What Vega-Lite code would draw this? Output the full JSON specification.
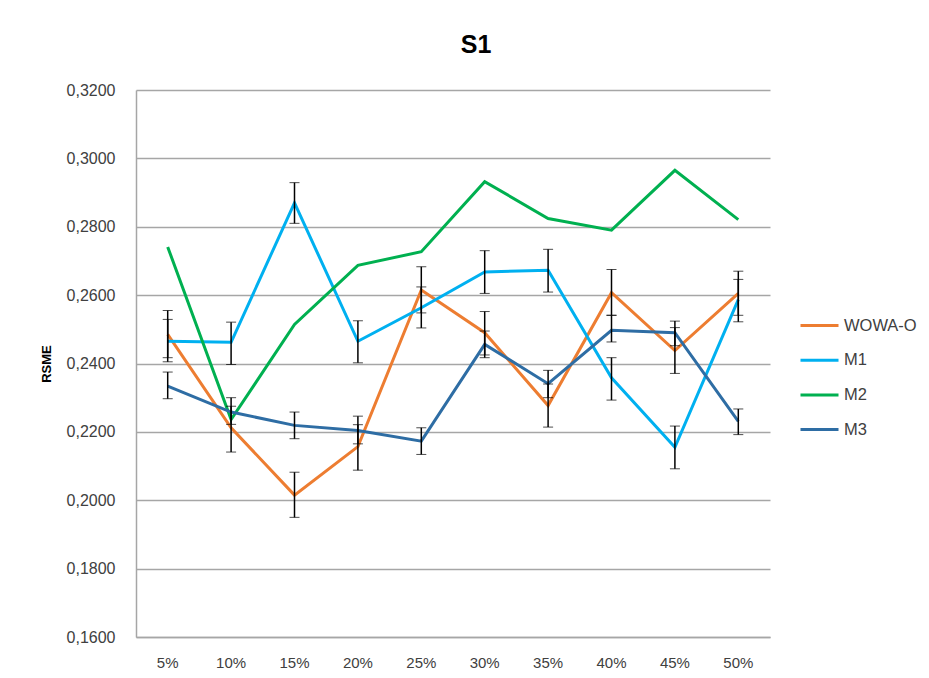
{
  "$schema": "https://vega.github.io/schema/vega-lite/v6.json",
  "width": 634,
  "height": 547,
  "autosize": {"type": "none"},
  "padding": {"left": 136, "top": 90, "right": 159, "bottom": 41},
  "background": "white",
  "title": {
    "text": "S1",
    "font": "Liberation Sans",
    "fontSize": 25,
    "fontWeight": "bold",
    "color": "#000000",
    "anchor": "middle",
    "dx": 23,
    "offset": 24
  },
  "data": {
    "values": [
      {"s": "WOWA-O", "x": "5%", "v": 0.2485, "lo": 0.2417, "hi": 0.2555},
      {"s": "WOWA-O", "x": "10%", "v": 0.2212, "lo": 0.2141, "hi": 0.2275},
      {"s": "WOWA-O", "x": "15%", "v": 0.2015, "lo": 0.1950, "hi": 0.2082},
      {"s": "WOWA-O", "x": "20%", "v": 0.2157, "lo": 0.2088, "hi": 0.2221},
      {"s": "WOWA-O", "x": "25%", "v": 0.2615, "lo": 0.2548, "hi": 0.2683},
      {"s": "WOWA-O", "x": "30%", "v": 0.2490, "lo": 0.2425, "hi": 0.2552},
      {"s": "WOWA-O", "x": "35%", "v": 0.2277, "lo": 0.2214, "hi": 0.2340},
      {"s": "WOWA-O", "x": "40%", "v": 0.2607, "lo": 0.2541, "hi": 0.2675},
      {"s": "WOWA-O", "x": "45%", "v": 0.2438, "lo": 0.2371, "hi": 0.2505},
      {"s": "WOWA-O", "x": "50%", "v": 0.2605, "lo": 0.2541, "hi": 0.2670},
      {"s": "M1", "x": "5%", "v": 0.2465, "lo": 0.2405, "hi": 0.2529},
      {"s": "M1", "x": "10%", "v": 0.2462, "lo": 0.2397, "hi": 0.2521},
      {"s": "M1", "x": "15%", "v": 0.2870, "lo": 0.2810, "hi": 0.2929},
      {"s": "M1", "x": "20%", "v": 0.2465, "lo": 0.2402, "hi": 0.2525},
      {"s": "M1", "x": "25%", "v": 0.2563, "lo": 0.2504, "hi": 0.2624},
      {"s": "M1", "x": "30%", "v": 0.2668, "lo": 0.2605, "hi": 0.2730},
      {"s": "M1", "x": "35%", "v": 0.2673, "lo": 0.2609, "hi": 0.2734},
      {"s": "M1", "x": "40%", "v": 0.2358, "lo": 0.2293, "hi": 0.2417},
      {"s": "M1", "x": "45%", "v": 0.2155, "lo": 0.2092, "hi": 0.2217},
      {"s": "M1", "x": "50%", "v": 0.2587, "lo": 0.2522, "hi": 0.2646},
      {"s": "M2", "x": "5%", "v": 0.2741, "lo": null, "hi": null},
      {"s": "M2", "x": "10%", "v": 0.2236, "lo": null, "hi": null},
      {"s": "M2", "x": "15%", "v": 0.2514, "lo": null, "hi": null},
      {"s": "M2", "x": "20%", "v": 0.2687, "lo": null, "hi": null},
      {"s": "M2", "x": "25%", "v": 0.2727, "lo": null, "hi": null},
      {"s": "M2", "x": "30%", "v": 0.2932, "lo": null, "hi": null},
      {"s": "M2", "x": "35%", "v": 0.2824, "lo": null, "hi": null},
      {"s": "M2", "x": "40%", "v": 0.2790, "lo": null, "hi": null},
      {"s": "M2", "x": "45%", "v": 0.2965, "lo": null, "hi": null},
      {"s": "M2", "x": "50%", "v": 0.2821, "lo": null, "hi": null},
      {"s": "M3", "x": "5%", "v": 0.2334, "lo": 0.2297, "hi": 0.2375},
      {"s": "M3", "x": "10%", "v": 0.2258, "lo": 0.2222, "hi": 0.2300},
      {"s": "M3", "x": "15%", "v": 0.2219, "lo": 0.2180, "hi": 0.2258},
      {"s": "M3", "x": "20%", "v": 0.2204, "lo": 0.2165, "hi": 0.2246},
      {"s": "M3", "x": "25%", "v": 0.2173, "lo": 0.2134, "hi": 0.2212},
      {"s": "M3", "x": "30%", "v": 0.2456, "lo": 0.2417, "hi": 0.2495},
      {"s": "M3", "x": "35%", "v": 0.2341, "lo": 0.2300, "hi": 0.2380},
      {"s": "M3", "x": "40%", "v": 0.2497, "lo": 0.2463, "hi": 0.2541},
      {"s": "M3", "x": "45%", "v": 0.2490, "lo": 0.2452, "hi": 0.2524},
      {"s": "M3", "x": "50%", "v": 0.2231, "lo": 0.2192, "hi": 0.2267}
    ]
  },
  "encoding": {
    "x": {
      "field": "x",
      "type": "ordinal",
      "sort": ["5%", "10%", "15%", "20%", "25%", "30%", "35%", "40%", "45%", "50%"],
      "axis": {
        "title": null,
        "labelAngle": 0,
        "labelFont": "Liberation Sans",
        "labelFontSize": 15,
        "labelColor": "#404040",
        "labelPadding": 18,
        "ticks": false,
        "domain": true,
        "domainColor": "#a6a6a6",
        "domainWidth": 1.5,
        "grid": false
      }
    }
  },
  "layer": [
    {
      "mark": {"type": "line", "strokeWidth": 3},
      "encoding": {
        "y": {
          "field": "v",
          "type": "quantitative",
          "title": "RSME",
          "scale": {"domain": [0.16, 0.32], "nice": false, "zero": false},
          "axis": {
            "title": "RSME",
            "titleFont": "Liberation Sans",
            "titleFontSize": 13,
            "titleFontWeight": "bold",
            "titleColor": "#000000",
            "titlePadding": 13,
            "values": [0.16, 0.18, 0.2, 0.22, 0.24, 0.26, 0.28, 0.3, 0.32],
            "labelExpr": "replace(format(datum.value, '.4f'), '.', ',')",
            "labelFont": "Liberation Sans",
            "labelFontSize": 16,
            "labelColor": "#404040",
            "labelPadding": 21,
            "ticks": false,
            "domain": true,
            "domainColor": "#a6a6a6",
            "domainWidth": 1.5,
            "grid": true,
            "gridColor": "#a6a6a6",
            "gridWidth": 1.5
          }
        },
        "color": {
          "field": "s",
          "type": "nominal",
          "scale": {
            "domain": ["WOWA-O", "M1", "M2", "M3"],
            "range": ["#ED7D31", "#00B0F0", "#00B050", "#2E6DA4"]
          },
          "legend": {
            "title": null,
            "orient": "none",
            "legendX": 663,
            "legendY": 215,
            "padding": 0,
            "symbolType": "stroke",
            "symbolSize": 1444,
            "symbolStrokeWidth": 3,
            "labelFont": "Liberation Sans",
            "labelFontSize": 16.5,
            "labelColor": "#404040",
            "labelOffset": 4,
            "rowPadding": 5.7
          }
        }
      }
    },
    {
      "transform": [{"filter": "datum.lo != null"}],
      "mark": {
        "type": "errorbar",
        "ticks": {"size": 10, "color": "#000000", "strokeWidth": 1.5},
        "rule": {"color": "#000000", "strokeWidth": 1.5}
      },
      "encoding": {
        "y": {"field": "lo", "type": "quantitative", "title": "RSME"},
        "y2": {"field": "hi"}
      }
    }
  ],
  "config": {
    "view": {"stroke": null}
  }
}
